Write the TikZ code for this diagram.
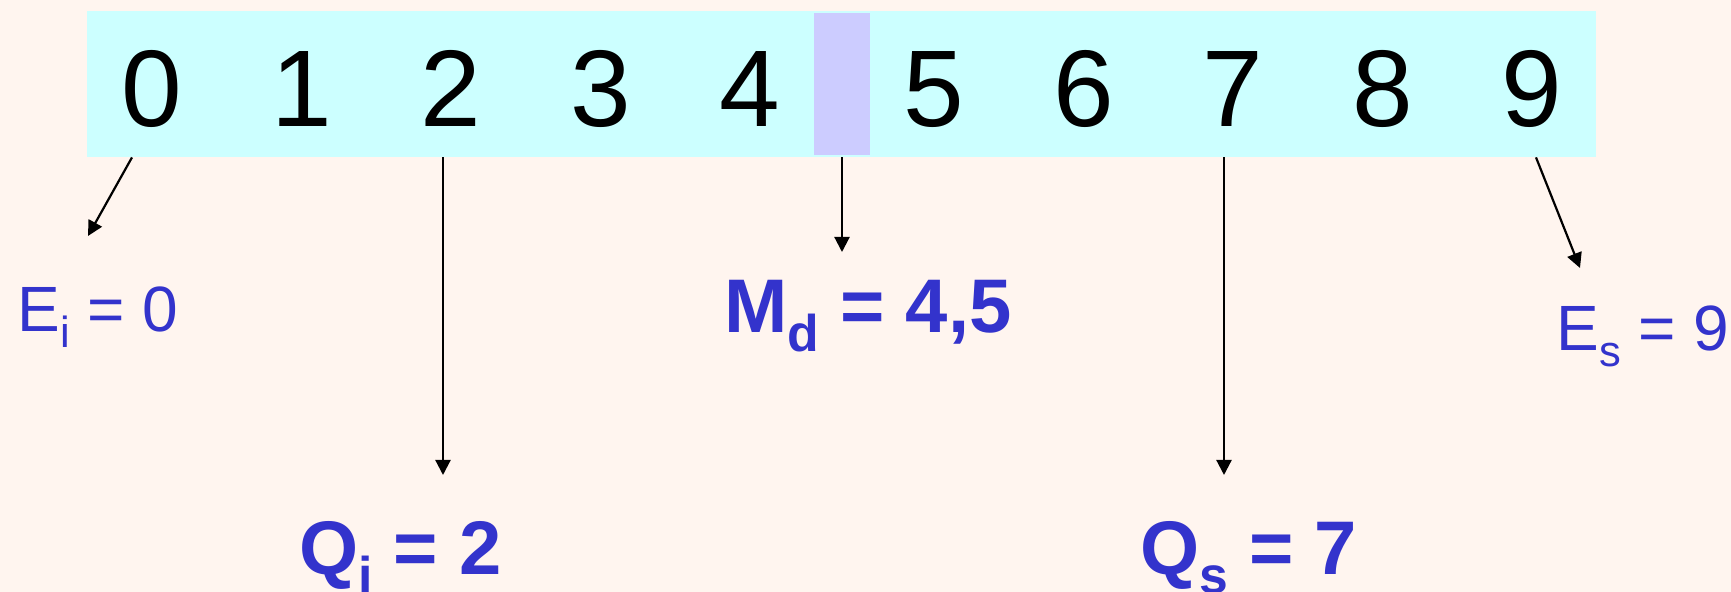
\documentclass[tikz,border=0pt]{standalone}
\usepackage{fontspec}
\setmainfont{Liberation Sans}
\usetikzlibrary{positioning,arrows.meta}
\definecolor{paper}{HTML}{FFF5EF}
\definecolor{aqua}{HTML}{CCFFFF}
\definecolor{lilac}{HTML}{CCCCFF}
\definecolor{ink}{HTML}{3333CC}
\newcommand{\lowsub}[1]{\raisebox{-0.24em}{\scalebox{0.68}{#1}}}
\tikzset{
  strip/.style={rectangle, fill=aqua, inner sep=0pt, minimum width=754.5pt, minimum height=73pt},
  gapbox/.style={rectangle, fill=lilac, inner sep=0pt, minimum width=28pt, minimum height=71pt},
  digit/.style={anchor=base, inner sep=0pt, font=\fontsize{54.5}{54.5}\selectfont},
  stat/.style={anchor=base west, inner sep=0pt, text=ink, font=\fontsize{32}{32}\selectfont},
  boldstat/.style={stat, font=\fontsize{38}{38}\selectfont\bfseries},
  pointer/.style={-{Triangle[length=7.5pt,width=7.5pt]}, line width=1.1pt, draw=black}
}
\begin{document}
\begin{tikzpicture}[x=0.5pt,y=-0.5pt]
\fill[paper] (0,0) rectangle (1731,592);
\useasboundingbox (0,0) rectangle (1731,592);
\node[strip] (band) at (841.5,84) {};
\node[gapbox] (gap) at (842,84.5) {};
% ordered data, median between 4 and 5
\foreach \n in {0,...,4}
  \node[digit] (d\n) at ({152+149.5*\n},127) {\n};
\foreach \n in {5,...,9}
  \node[digit] (d\n) at ({934+149.5*(\n-5)},127) {\n};
\node[stat] (ei) at (17,332) {E\lowsub{i} = 0};
\node[boldstat] (md) at (724,333) {M\lowsub{d} = 4,5};
\node[stat] (es) at (1556,351) {E\lowsub{s} = 9};
\node[boldstat] (qi) at (299,575) {Q\lowsub{i} = 2};
\node[boldstat] (qs) at (1140,575) {Q\lowsub{s} = 7};
% arrow tips above the labels
\coordinate (eitip) at (88,236);
\coordinate (qitip) at (443,475);
\coordinate (mdtip) at (842,252);
\coordinate (qstip) at (1224,475);
\coordinate (estip) at (1580,268);
\draw[pointer] (band.south -| 132,0) -- (eitip);
\draw[pointer] (band.south -| qitip) -- (qitip);
\draw[pointer] (band.south -| gap.south) -- (mdtip);
\draw[pointer] (band.south -| qstip) -- (qstip);
\draw[pointer] (band.south -| 1536,0) -- (estip);
\end{tikzpicture}
\end{document}
